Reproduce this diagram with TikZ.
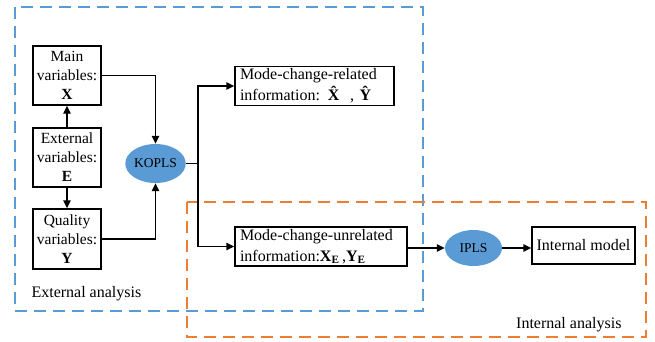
\documentclass[tikz,border=0pt]{standalone}
\usepackage{fontspec}
\setmainfont{Liberation Serif}
\usetikzlibrary{arrows.meta,shapes.geometric}
\definecolor{dashblue}{RGB}{91,155,213}
\definecolor{dashorange}{RGB}{237,125,49}
\definecolor{blobfill}{RGB}{91,155,213}
\newcommand{\hatbf}[1]{\ooalign{\textbf{#1}\cr\hidewidth\raisebox{0.2em}{\textbf{\char"02C6}}\hidewidth\cr}}
\tikzset{
  varbox/.style={draw,line width=1.4pt,inner sep=0pt,align=center,
    minimum width=68pt,minimum height=59pt,font=\fontsize{15.5}{19}\selectfont},
  infobox/.style={draw,line width=1.4pt,inner xsep=5pt,inner ysep=2pt,align=left,
    font=\fontsize{16}{21}\selectfont},
  blob/.style={ellipse,fill=blobfill,inner sep=0pt,minimum width=57pt,
    font=\fontsize{13.5}{15}\selectfont},
  region/.style={line width=1.3pt,dash pattern=on 12pt off 7pt},
  link/.style={line width=1.4pt,-{Triangle[length=8pt,width=7.5pt]}}
}
\begin{document}
\begin{tikzpicture}[x=1pt,y=-1pt]
\useasboundingbox (0,0) rectangle (655,341);
% ---------- analysis regions ----------
\draw[region,dashblue] (15,7) rectangle (423,311);
\draw[region,dashorange] (187,202) rectangle (646,337);
\node[anchor=west,font=\fontsize{16}{19}\selectfont] (extlabel) at (28,294) {External analysis};
\node[anchor=east,font=\fontsize{16}{19}\selectfont] (intlabel) at (625,325) {Internal analysis};
% ---------- variables ----------
\node[varbox] (mainvar) at (67,75.5) {Main\\variables:\\\textbf{X}};
\node[varbox] (extvar) at (67,157.5) {External\\variables:\\\textbf{E}};
\node[varbox,minimum height=60pt] (qualvar) at (67,239) {Quality\\variables:\\\textbf{Y}};
\node[blob,minimum height=39pt] (kopls) at (155.5,163.5) {KOPLS};
% ---------- information ----------
\node[infobox,text width=149pt] (related) at (314.5,86)
  {Mode-change-related\\information: \hatbf{X}\,\, , \hatbf{Y}};
\node[infobox,text width=162pt] (unrelated) at (321,246.5)
  {Mode-change-unrelated\\information:\textbf{X}\textsubscript{\textbf{E}}\,,\textbf{Y}\textsubscript{\textbf{E}}};
\node[blob,minimum height=36pt] (ipls) at (473.5,248) {IPLS};
\node[draw,line width=1.4pt,minimum width=103pt,minimum height=37pt,
  font=\fontsize{16}{19}\selectfont] (model) at (583.5,245.5) {Internal model};
% ---------- connectors ----------
\coordinate (split) at (198,163.5);
\draw[link] (extvar) -- (mainvar);
\draw[link] (extvar) -- (qualvar);
\draw[link] (mainvar.east) -| (kopls.north);
\draw[link] (qualvar.east) -| (kopls.south);
\draw[line width=1.4pt] (kopls.east) -- (split);
\draw[link] (split) |- (related.west);
\draw[link] (split) |- (unrelated.west);
\draw[link] (unrelated.east |- ipls.west) -- (ipls.west);
\draw[link] (ipls.east) -- (ipls.east -| model.west);
\end{tikzpicture}
\end{document}
